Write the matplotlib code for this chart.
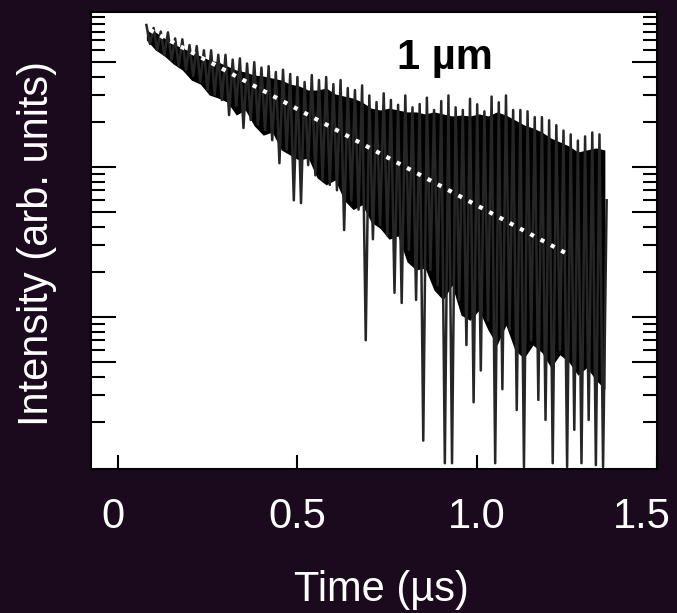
import numpy as np
import matplotlib
matplotlib.use('Agg')
import matplotlib.pyplot as plt
import matplotlib.transforms as mtrans
from matplotlib.ticker import FixedLocator, NullFormatter

# 时间轴：0.08 us 起，每 0.01 us 一个采样点
t_start = 0.08
t_step = 0.01

# 衰减信号强度（arb. units），从图上读出的数值（含噪声尖峰）
intensity = [885, 661, 845, 603, 800, 558, 790, 517, 720, 471,
             710, 443, 650, 404, 640, 369, 600, 326, 600, 302,
             560, 280, 560, 222, 520, 255, 530, 182, 490, 206,
             500, 191, 460, 176, 470, 151, 430, 106, 445, 130,
             417, 60, 398, 57.5, 369, 103, 410, 88, 380, 82,
             398, 76, 357, 70, 380, 38, 336, 60, 326, 52,
             350, 7.0, 300, 33, 271, 41, 310, 35, 280, 14.5,
             260, 12.4, 300, 28, 250, 13, 263, 1.5, 290, 20.6,
             240, 16.3, 275, 1.06, 300, 1.06, 250, 13, 240, 6.5,
             285, 2.7, 262, 4.4, 235, 9.5, 295, 1.06, 270, 3.3,
             300, 8.2, 240, 2.4, 240, 1.0, 235, 7.0, 215, 2.8,
             215, 2.06, 205, 1.06, 190, 6.0, 175, 1.0, 165, 1.77,
             150, 1.06, 160, 2.06, 170, 1.03, 165, 1.0, 60]

# 噪声带的密集部分（上下包络）
band_t = [0.08, 0.105, 0.13, 0.155, 0.18, 0.205, 0.23, 0.255, 0.28, 0.305,
          0.33, 0.355, 0.38, 0.405, 0.43, 0.455, 0.48, 0.505, 0.53, 0.555,
          0.58, 0.605, 0.63, 0.655, 0.68, 0.705, 0.73, 0.755, 0.78, 0.805,
          0.83, 0.855, 0.88, 0.905, 0.93, 0.955, 0.98, 1.005, 1.03, 1.055,
          1.08, 1.105, 1.13, 1.155, 1.18, 1.205, 1.23, 1.255, 1.28, 1.305,
          1.33, 1.355]
band_hi = [819, 794, 724, 661, 621, 584, 550, 517, 501, 471,
           443, 430, 410, 404, 392, 380, 357, 347, 326, 326,
           336, 307, 297, 288, 271, 247, 240, 247, 240, 233,
           233, 226, 233, 226, 219, 222, 219, 226, 219, 233,
           222, 206, 191, 182, 171, 156, 147, 138, 126, 130,
           134, 130]
band_lo = [703, 603, 550, 486, 443, 380, 357, 302, 288, 271,
           222, 240, 188, 163, 171, 130, 120, 111, 115, 84.5,
           76, 82, 60, 52, 56, 43, 39, 33, 34.7, 23.3,
           20.6, 21.2, 15.1, 13, 16.3, 10.3, 9.5, 11.1, 8.2, 6.5,
           8.8, 6.0, 5.3, 6.5, 5.8, 4.6, 5.6, 5.0, 4.1, 4.6,
           3.8, 3.3]

# 指数拟合线的两个端点
fit_t = [0.09, 1.255]
fit_y = [820, 26]

xticks = [0, 0.5, 1.0, 1.5]
xticklabels = ['0', '0.5', '1.0', '1.5']
ymajor = [5, 10, 50, 100, 500]
yminor = [2, 3, 4, 6, 7, 8, 9, 20, 30, 40, 60, 70, 80, 90,
          200, 300, 400, 600, 700, 800, 900, 1000]

t = t_start + t_step * np.arange(len(intensity))

plt.rcParams['font.family'] = ['Liberation Sans', 'DejaVu Sans']

bg = '#1b0a1e'
fig = plt.figure(figsize=(6.77, 6.13), dpi=100, facecolor=bg)
ax = fig.add_axes([91/677, 1-469/613, 566/677, 457/613])
ax.set_facecolor('white')

ax.fill_between(band_t, band_lo, band_hi, color='black', lw=0, zorder=2)
ax.plot(t, intensity, color='#262626', lw=1.8, zorder=2)
ax.plot(fit_t, fit_y, color='white', lw=3, dashes=(1, 1.8), zorder=3)

ax.set_yscale('log')
ax.set_xlim(-0.074, 1.5)
ax.set_ylim(0.97, 1080)

ax.set_xticks(xticks)
ax.set_xticklabels(xticklabels)
ax.yaxis.set_major_locator(FixedLocator(ymajor))
ax.yaxis.set_minor_locator(FixedLocator(yminor))
ax.yaxis.set_major_formatter(NullFormatter())
ax.yaxis.set_minor_formatter(NullFormatter())
ax.xaxis.set_minor_locator(FixedLocator([]))

ax.tick_params(axis='x', which='major', direction='in', length=10, width=1.5,
               color='black', labelcolor='white', labelsize=30, pad=20, top=False)
ax.tick_params(axis='y', which='major', direction='in', length=18, width=1.5,
               color='black', left=True, right=True)
ax.tick_params(axis='y', which='minor', direction='in', length=10, width=1.5,
               color='black', left=True, right=True)

# 刻度标签稍微左移，和原图一致
shifts = [-5, 0, 0, -15]
for lab, dx in zip(ax.get_xticklabels(), shifts):
    lab.set_transform(lab.get_transform() +
                      mtrans.ScaledTranslation(dx / 100, 0, fig.dpi_scale_trans))

for s in ax.spines.values():
    s.set_color('black')
    s.set_linewidth(1.5)

ax.text(0.625, 0.899, '1 \u00b5m', transform=ax.transAxes, ha='center', va='center',
        fontsize=30, fontweight='bold', color='black')

fig.text(381/677, 1-590/613, 'Time (\u00b5s)', ha='center', va='center',
         fontsize=30, color='white')
fig.text(37/677, 1-243/613, 'Intensity (arb. units)', ha='center', va='center',
         rotation=90, fontsize=30, color='white')

plt.savefig('out.png', dpi=100, facecolor=bg)
